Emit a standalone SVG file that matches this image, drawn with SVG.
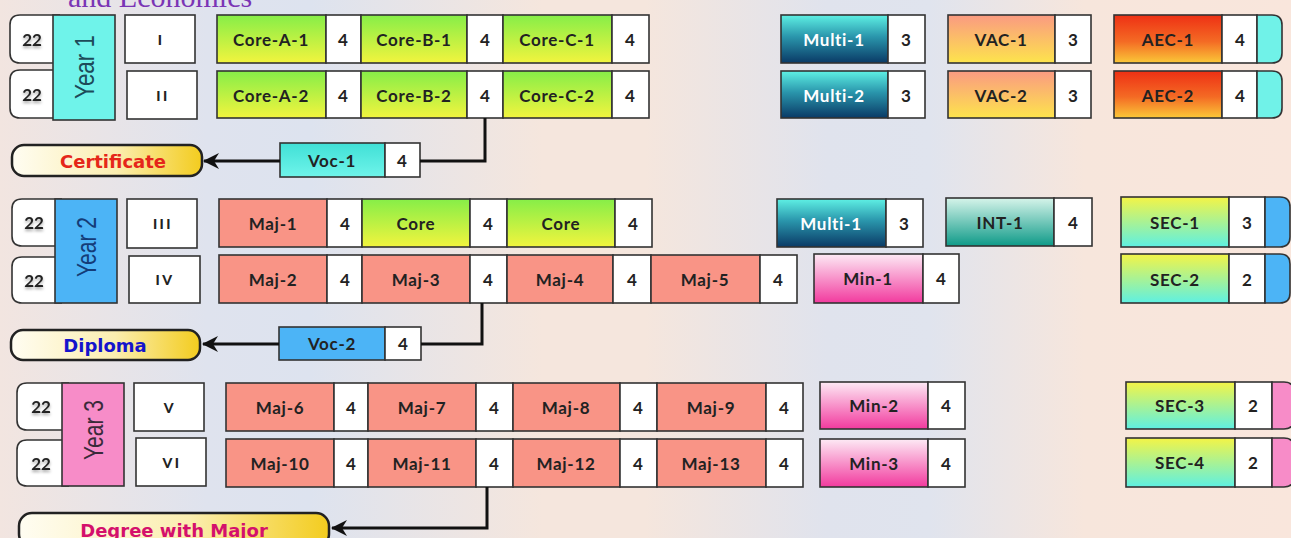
<svg xmlns="http://www.w3.org/2000/svg" width="1291" height="538" viewBox="0 0 1291 538">
<defs>
<linearGradient id="bg" x1="0" y1="0" x2="1" y2="0">
<stop offset="0" stop-color="#f2e5e0"/><stop offset="0.16" stop-color="#dfe3ee"/><stop offset="0.24" stop-color="#dde3ef"/><stop offset="0.42" stop-color="#f5e6dd"/><stop offset="0.5" stop-color="#f5e6dd"/><stop offset="0.64" stop-color="#e0e3ed"/><stop offset="0.72" stop-color="#e0e4ee"/><stop offset="0.84" stop-color="#f7e6dc"/><stop offset="1" stop-color="#f9e6dc"/>
</linearGradient>
<linearGradient id="gCore" x1="0" y1="0" x2="0" y2="1"><stop offset="0" stop-color="#86ee48"/><stop offset="1" stop-color="#f2f43e"/></linearGradient>
<linearGradient id="gMulti" x1="0" y1="0" x2="0" y2="1"><stop offset="0" stop-color="#5ef0e4"/><stop offset="0.45" stop-color="#2a96ac"/><stop offset="1" stop-color="#0a3a66"/></linearGradient>
<linearGradient id="gVAC" x1="0" y1="0" x2="0" y2="1"><stop offset="0" stop-color="#fa9a82"/><stop offset="1" stop-color="#fde44c"/></linearGradient>
<linearGradient id="gAEC" x1="0" y1="0" x2="0" y2="1"><stop offset="0" stop-color="#ee3014"/><stop offset="0.55" stop-color="#f46a24"/><stop offset="1" stop-color="#fac838"/></linearGradient>
<linearGradient id="gMin" x1="0" y1="0" x2="0" y2="1"><stop offset="0" stop-color="#fdeaf5"/><stop offset="1" stop-color="#f23a9e"/></linearGradient>
<linearGradient id="gINT" x1="0" y1="0" x2="0" y2="1"><stop offset="0" stop-color="#d6f4ea"/><stop offset="1" stop-color="#0e9a88"/></linearGradient>
<linearGradient id="gSEC" x1="0" y1="0" x2="0" y2="1"><stop offset="0" stop-color="#f4f446"/><stop offset="1" stop-color="#5ef0e2"/></linearGradient>
<linearGradient id="gVoc1" x1="0" y1="0" x2="0" y2="1"><stop offset="0" stop-color="#40e0d6"/><stop offset="1" stop-color="#6ff4ea"/></linearGradient>
<linearGradient id="gPill" x1="0" y1="0" x2="1" y2="0"><stop offset="0" stop-color="#fffdf2"/><stop offset="0.55" stop-color="#fbeeb0"/><stop offset="1" stop-color="#f3cc1e"/></linearGradient>
<filter id="sh" x="-30%" y="-30%" width="160%" height="180%"><feDropShadow dx="0" dy="2" stdDeviation="1.5" flood-color="#000" flood-opacity="0.35"/></filter>
<marker id="arr" viewBox="0 0 16 16" refX="15" refY="8" markerWidth="16" markerHeight="16" markerUnits="userSpaceOnUse" orient="auto">
<path d="M0,0 L16,8 L0,16 L5,8 Z" fill="#111"/>
</marker>
<style>
.bx{stroke:#333;stroke-width:1.6}
.w{fill:#fff}
.maj{fill:#f99486}
.core{fill:url(#gCore)}
.multi{fill:url(#gMulti)}
.vac{fill:url(#gVAC)}
.aec{fill:url(#gAEC)}
.min{fill:url(#gMin)}
.int{fill:url(#gINT)}
.sec{fill:url(#gSEC)}
.t{font-family:Lato,"Open Sans",sans-serif;font-weight:700;font-size:17px;letter-spacing:0.7px;fill:#222;text-anchor:middle;dominant-baseline:central}
.n{font-family:Lato,"Open Sans",sans-serif;font-weight:700;font-size:17px;fill:#222;text-anchor:middle;dominant-baseline:central}
.tw{fill:#fff}
.sh{filter:url(#sh)}
.sem{font-family:Lato,"Open Sans",sans-serif;font-weight:900;font-size:14px;letter-spacing:2.5px;fill:#222;text-anchor:middle;dominant-baseline:central}
.yr{font-family:"Liberation Sans",Arial,sans-serif;font-size:28px;text-anchor:middle;dominant-baseline:central}
.pill{fill:url(#gPill);stroke:#222;stroke-width:2.5}
.pt{font-family:"DejaVu Sans",Verdana,sans-serif;font-weight:700;font-size:18px;text-anchor:middle;dominant-baseline:central}
.con{fill:none;stroke:#111;stroke-width:3}
</style>
</defs>
<rect x="0" y="0" width="1291" height="538" fill="url(#bg)"/>
<text x="68" y="7" font-family="Liberation Serif,Times New Roman,serif" font-size="30" fill="#7b35b5">and Economics</text>

<g id="year1">
<path class="bx w" d="M60,15 H20 Q10,15 10,25 V53 Q10,63 20,63 H60"/>
<path class="bx w" d="M60,70 H20 Q10,70 10,80 V108 Q10,118 20,118 H60"/>
<text class="n sh" x="32" y="39">22</text><text class="n sh" x="32" y="94">22</text>
<rect class="bx" x="53" y="15" width="62" height="105" fill="#6ff3ea"/>
<text class="yr" fill="#1d4b59" transform="translate(84,67) rotate(-90)" textLength="64" lengthAdjust="spacingAndGlyphs">Year 1</text>
</g>
<g id="sem-I"><rect class="bx w" x="125" y="15" width="70" height="48"/><text class="sem" x="161" y="39">I</text></g>
<g id="sem-II"><rect class="bx w" x="127" y="71" width="70" height="48"/><text class="sem" x="163" y="95">II</text></g>

<g id="core-a-1"><rect class="bx core" x="217" y="15" width="109" height="48"/><rect class="bx w" x="326" y="15" width="35" height="48"/><text class="t" x="271" y="39">Core-A-1</text><text class="n" x="343" y="39">4</text></g>
<g id="core-b-1"><rect class="bx core" x="361" y="15" width="106" height="48"/><rect class="bx w" x="467" y="15" width="36" height="48"/><text class="t" x="414" y="39">Core-B-1</text><text class="n" x="485" y="39">4</text></g>
<g id="core-c-1"><rect class="bx core" x="503" y="15" width="109" height="48"/><rect class="bx w" x="612" y="15" width="37" height="48"/><text class="t" x="557" y="39">Core-C-1</text><text class="n" x="630" y="39">4</text></g>
<g id="core-a-2"><rect class="bx core" x="217" y="71" width="109" height="47"/><rect class="bx w" x="326" y="71" width="35" height="47"/><text class="t" x="271" y="95">Core-A-2</text><text class="n" x="343" y="95">4</text></g>
<g id="core-b-2"><rect class="bx core" x="361" y="71" width="106" height="47"/><rect class="bx w" x="467" y="71" width="36" height="47"/><text class="t" x="414" y="95">Core-B-2</text><text class="n" x="485" y="95">4</text></g>
<g id="core-c-2"><rect class="bx core" x="503" y="71" width="109" height="47"/><rect class="bx w" x="612" y="71" width="37" height="47"/><text class="t" x="557" y="95">Core-C-2</text><text class="n" x="630" y="95">4</text></g>

<g id="multi-1a"><rect class="bx multi" x="781" y="15" width="107" height="48"/><rect class="bx w" x="888" y="15" width="37" height="48"/><text class="t tw" x="834" y="39">Multi-1</text><text class="n" x="906" y="39">3</text></g>
<g id="multi-2"><rect class="bx multi" x="781" y="71" width="107" height="47"/><rect class="bx w" x="888" y="71" width="37" height="47"/><text class="t tw" x="834" y="95">Multi-2</text><text class="n" x="906" y="95">3</text></g>
<g id="vac-1"><rect class="bx vac" x="948" y="15" width="107" height="48"/><rect class="bx w" x="1055" y="15" width="36" height="48"/><text class="t" x="1001" y="39">VAC-1</text><text class="n" x="1073" y="39">3</text></g>
<g id="vac-2"><rect class="bx vac" x="948" y="71" width="107" height="47"/><rect class="bx w" x="1055" y="71" width="36" height="47"/><text class="t" x="1001" y="95">VAC-2</text><text class="n" x="1073" y="95">3</text></g>
<g id="aec-1"><rect class="bx aec" x="1114" y="15" width="108" height="48"/><rect class="bx w" x="1222" y="15" width="35" height="48"/><path class="bx" fill="#70f2e8" d="M1257,15 H1272 Q1282,15 1282,25 V53 Q1282,63 1272,63 H1257 Z"/><text class="t" x="1168" y="39">AEC-1</text><text class="n" x="1240" y="39">4</text></g>
<g id="aec-2"><rect class="bx aec" x="1114" y="71" width="108" height="47"/><rect class="bx w" x="1222" y="71" width="35" height="47"/><path class="bx" fill="#70f2e8" d="M1257,71 H1272 Q1282,71 1282,81 V108 Q1282,118 1272,118 H1257 Z"/><text class="t" x="1168" y="95">AEC-2</text><text class="n" x="1240" y="95">4</text></g>

<g id="certificate"><rect class="pill" x="12" y="145" width="190" height="31" rx="12"/><text class="pt" x="113" y="161" fill="#e5261a">Certificate</text></g>
<g id="voc-1"><rect class="bx" x="280" y="143" width="105" height="34" fill="url(#gVoc1)"/><rect class="bx w" x="385" y="143" width="35" height="34"/><text class="t" x="332" y="160">Voc-1</text><text class="n" x="402" y="160">4</text></g>

<g id="year2">
<path class="bx w" d="M62,199 H22 Q12,199 12,209 V236 Q12,246 22,246 H62"/>
<path class="bx w" d="M62,257 H22 Q12,257 12,267 V293 Q12,303 22,303 H62"/>
<text class="n sh" x="34" y="222">22</text><text class="n sh" x="34" y="280">22</text>
<rect class="bx" x="55" y="199" width="62" height="104" fill="#4cb4f6"/>
<text class="yr" fill="#143c78" transform="translate(86,247) rotate(-90)" textLength="60" lengthAdjust="spacingAndGlyphs">Year 2</text>
</g>
<g id="sem-III"><rect class="bx w" x="127" y="199" width="70" height="49"/><text class="sem" x="163" y="223">III</text></g>
<g id="sem-IV"><rect class="bx w" x="129" y="256" width="71" height="47"/><text class="sem" x="165" y="279">IV</text></g>

<g id="maj-1"><rect class="bx maj" x="219" y="199" width="108" height="48"/><rect class="bx w" x="327" y="199" width="35" height="48"/><text class="t" x="273" y="223">Maj-1</text><text class="n" x="345" y="223">4</text></g>
<g id="core-y2a"><rect class="bx core" x="362" y="199" width="108" height="48"/><rect class="bx w" x="470" y="199" width="37" height="48"/><text class="t" x="416" y="223">Core</text><text class="n" x="488" y="223">4</text></g>
<g id="core-y2b"><rect class="bx core" x="507" y="199" width="108" height="48"/><rect class="bx w" x="615" y="199" width="37" height="48"/><text class="t" x="561" y="223">Core</text><text class="n" x="633" y="223">4</text></g>
<g id="multi-1b"><rect class="bx multi" x="777" y="199" width="109" height="48"/><rect class="bx w" x="886" y="199" width="37" height="48"/><text class="t tw" x="831" y="223">Multi-1</text><text class="n" x="904" y="223">3</text></g>
<g id="int-1"><rect class="bx int" x="946" y="198" width="108" height="48"/><rect class="bx w" x="1054" y="198" width="38" height="48"/><text class="t" x="1000" y="222">INT-1</text><text class="n" x="1073" y="222">4</text></g>
<g id="sec-1"><rect class="bx sec" x="1121" y="197" width="108" height="50"/><rect class="bx w" x="1229" y="197" width="36" height="50"/><path class="bx" fill="#4cb4f6" d="M1265,197 H1280 Q1290,197 1290,207 V237 Q1290,247 1280,247 H1265 Z"/><text class="t" x="1175" y="222">SEC-1</text><text class="n" x="1247" y="222">3</text></g>

<g id="maj-2"><rect class="bx maj" x="219" y="255" width="108" height="48"/><rect class="bx w" x="327" y="255" width="35" height="48"/><text class="t" x="273" y="279">Maj-2</text><text class="n" x="345" y="279">4</text></g>
<g id="maj-3"><rect class="bx maj" x="362" y="255" width="108" height="48"/><rect class="bx w" x="470" y="255" width="37" height="48"/><text class="t" x="416" y="279">Maj-3</text><text class="n" x="488" y="279">4</text></g>
<g id="maj-4"><rect class="bx maj" x="507" y="255" width="106" height="48"/><rect class="bx w" x="613" y="255" width="38" height="48"/><text class="t" x="560" y="279">Maj-4</text><text class="n" x="632" y="279">4</text></g>
<g id="maj-5"><rect class="bx maj" x="651" y="255" width="109" height="48"/><rect class="bx w" x="760" y="255" width="37" height="48"/><text class="t" x="705" y="279">Maj-5</text><text class="n" x="778" y="279">4</text></g>
<g id="min-1"><rect class="bx min" x="814" y="254" width="109" height="49"/><rect class="bx w" x="923" y="254" width="36" height="49"/><text class="t" x="868" y="278">Min-1</text><text class="n" x="941" y="278">4</text></g>
<g id="sec-2"><rect class="bx sec" x="1121" y="254" width="108" height="49"/><rect class="bx w" x="1229" y="254" width="36" height="49"/><path class="bx" fill="#4cb4f6" d="M1265,254 H1280 Q1290,254 1290,264 V293 Q1290,303 1280,303 H1265 Z"/><text class="t" x="1175" y="279">SEC-2</text><text class="n" x="1247" y="279">2</text></g>

<g id="diploma"><rect class="pill" x="11" y="330" width="189" height="30" rx="12"/><text class="pt" x="105" y="345" fill="#1414cc">Diploma</text></g>
<g id="voc-2"><rect class="bx" x="279" y="327" width="106" height="33" fill="#4cb4f6"/><rect class="bx w" x="385" y="327" width="36" height="33"/><text class="t" x="332" y="343">Voc-2</text><text class="n" x="403" y="343">4</text></g>

<g id="year3">
<path class="bx w" d="M69,383 H27 Q17,383 17,393 V420 Q17,430 27,430 H69"/>
<path class="bx w" d="M69,440 H27 Q17,440 17,450 V476 Q17,486 27,486 H69"/>
<text class="n sh" x="41" y="406">22</text><text class="n sh" x="41" y="463">22</text>
<rect class="bx" x="62" y="383" width="62" height="103" fill="#f78cc8"/>
<text class="yr" fill="#3a2a3a" transform="translate(93,430) rotate(-90)" textLength="60" lengthAdjust="spacingAndGlyphs">Year 3</text>
</g>
<g id="sem-V"><rect class="bx w" x="134" y="383" width="70" height="48"/><text class="sem" x="170" y="407">V</text></g>
<g id="sem-VI"><rect class="bx w" x="136" y="438" width="70" height="48"/><text class="sem" x="172" y="462">VI</text></g>

<g id="maj-6"><rect class="bx maj" x="226" y="383" width="108" height="48"/><rect class="bx w" x="334" y="383" width="34" height="48"/><text class="t" x="280" y="407">Maj-6</text><text class="n" x="351" y="407">4</text></g>
<g id="maj-7"><rect class="bx maj" x="368" y="383" width="108" height="48"/><rect class="bx w" x="476" y="383" width="37" height="48"/><text class="t" x="422" y="407">Maj-7</text><text class="n" x="494" y="407">4</text></g>
<g id="maj-8"><rect class="bx maj" x="513" y="383" width="107" height="48"/><rect class="bx w" x="620" y="383" width="37" height="48"/><text class="t" x="566" y="407">Maj-8</text><text class="n" x="638" y="407">4</text></g>
<g id="maj-9"><rect class="bx maj" x="657" y="383" width="109" height="48"/><rect class="bx w" x="766" y="383" width="37" height="48"/><text class="t" x="711" y="407">Maj-9</text><text class="n" x="784" y="407">4</text></g>
<g id="min-2"><rect class="bx min" x="820" y="382" width="108" height="47"/><rect class="bx w" x="928" y="382" width="37" height="47"/><text class="t" x="874" y="405">Min-2</text><text class="n" x="946" y="405">4</text></g>
<g id="sec-3"><rect class="bx sec" x="1126" y="382" width="109" height="47"/><rect class="bx w" x="1235" y="382" width="37" height="47"/><path class="bx" fill="#f78cc8" d="M1272,382 H1284 Q1294,382 1294,392 V419 Q1294,429 1284,429 H1272 Z"/><text class="t" x="1180" y="405">SEC-3</text><text class="n" x="1253" y="405">2</text></g>

<g id="maj-10"><rect class="bx maj" x="226" y="439" width="108" height="48"/><rect class="bx w" x="334" y="439" width="34" height="48"/><text class="t" x="280" y="463">Maj-10</text><text class="n" x="351" y="463">4</text></g>
<g id="maj-11"><rect class="bx maj" x="368" y="439" width="108" height="48"/><rect class="bx w" x="476" y="439" width="37" height="48"/><text class="t" x="422" y="463">Maj-11</text><text class="n" x="494" y="463">4</text></g>
<g id="maj-12"><rect class="bx maj" x="513" y="439" width="107" height="48"/><rect class="bx w" x="620" y="439" width="37" height="48"/><text class="t" x="566" y="463">Maj-12</text><text class="n" x="638" y="463">4</text></g>
<g id="maj-13"><rect class="bx maj" x="657" y="439" width="109" height="48"/><rect class="bx w" x="766" y="439" width="37" height="48"/><text class="t" x="711" y="463">Maj-13</text><text class="n" x="784" y="463">4</text></g>
<g id="min-3"><rect class="bx min" x="820" y="439" width="108" height="48"/><rect class="bx w" x="928" y="439" width="37" height="48"/><text class="t" x="874" y="463">Min-3</text><text class="n" x="946" y="463">4</text></g>
<g id="sec-4"><rect class="bx sec" x="1126" y="438" width="109" height="49"/><rect class="bx w" x="1235" y="438" width="37" height="49"/><path class="bx" fill="#f78cc8" d="M1272,438 H1284 Q1294,438 1294,448 V477 Q1294,487 1284,487 H1272 Z"/><text class="t" x="1180" y="462">SEC-4</text><text class="n" x="1253" y="462">2</text></g>

<g id="degree"><rect class="pill" x="19" y="513" width="310" height="34" rx="13"/><text class="pt" x="174" y="530" fill="#d4106c">Degree with Major</text></g>

<g id="connectors">
<path class="con" d="M485,118 V161 H420"/>
<path class="con" d="M280,161 H204" marker-end="url(#arr)"/>
<path class="con" d="M482,303 V344 H421"/>
<path class="con" d="M279,344 H203" marker-end="url(#arr)"/>
<path class="con" d="M487,487 V528 H332" marker-end="url(#arr)"/>
</g>
</svg>
